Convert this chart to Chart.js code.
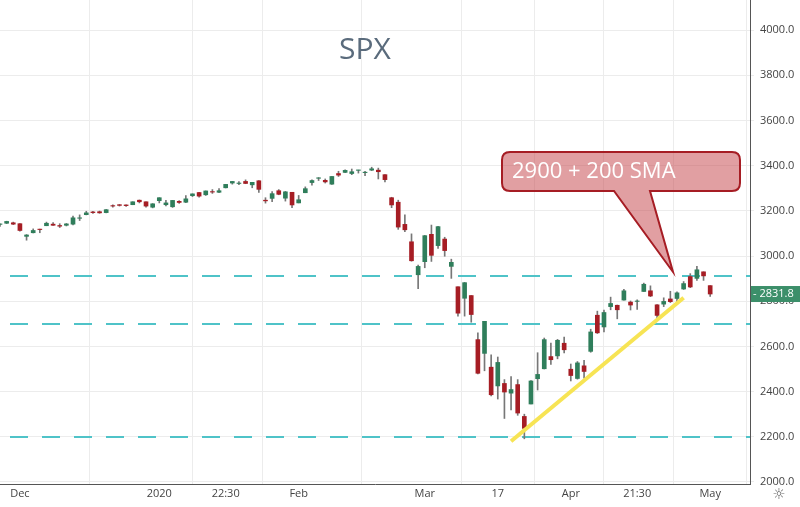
<!DOCTYPE html>
<html><head><meta charset="utf-8">
<script src="https://cdn.jsdelivr.net/npm/chart.js@4"></script>
<style>html,body{margin:0;padding:0;background:#fff}#w{width:800px;height:507px}</style>
</head><body><div id="w"><canvas id="c"></canvas></div>
<script>
const dates = ["Nov26","Nov27","Nov29",
"Dec2","Dec3","Dec4","Dec5","Dec6","Dec9","Dec10","Dec11","Dec12","Dec13","Dec16","Dec17","Dec18","Dec19","Dec20","Dec23","Dec24","Dec26","Dec27","Dec30","Dec31",
"Jan2","Jan3","Jan6","Jan7","Jan8","Jan9","Jan10","Jan13","Jan14","Jan15","Jan16","Jan17","Jan21","Jan22","Jan23","Jan24","Jan27","Jan28","Jan29","Jan30","Jan31",
"Feb3","Feb4","Feb5","Feb6","Feb7","Feb10","Feb11","Feb12","Feb13","Feb14","Feb18","Feb19","Feb20","Feb21","Feb24","Feb25","Feb26","Feb27","Feb28",
"Mar2","Mar3","Mar4","Mar5","Mar6","Mar9","Mar10","Mar11","Mar12","Mar13","Mar16","Mar17","Mar18","Mar19","Mar20","Mar23","Mar24","Mar25","Mar26","Mar27","Mar30","Mar31",
"Apr1","Apr2","Apr3","Apr6","Apr7","Apr8","Apr9","Apr13","Apr14","Apr15","Apr16","Apr17","Apr20","Apr21","Apr22","Apr23","Apr24","Apr27","Apr28","Apr29","Apr30",
"May1","e1","e2","e3","e4","e5","e6"];
const opens = [3140,3145,3147,
3143,3087,3103,3119,3134,3141,3135,3136,3141,3167,3183,3195,3196,3192,3223,3227,3226,3227,3247,3240,3216,
3245,3227,3218,3242,3238,3267,3281,3271,3285,3282,3302,3323,3321,3330,3315,3333,3247,3255,3289,3256,3282,
3235,3280,3325,3344,3335,3318,3365,3370,3365,3379,3369,3380,3380,3360,3258,3238,3140,3063,2917,
2975,3096,3046,3075,2954,2864,2813,2825,2630,2569,2508,2425,2436,2393,2431,2290,2345,2457,2501,2555,2558,2614,
2499,2458,2514,2578,2738,2686,2776,2782,2805,2796,2799,2843,2846,2784,2787,2810,2812,2854,2909,2901,2930,
2869];
const highs = [3142,3154,3150,
3144,3095,3120,3119,3150,3148,3143,3144,3177,3182,3198,3198,3199,3206,3226,3228,3227,3240,3248,3240,3232,
3258,3246,3246,3245,3267,3275,3282,3288,3294,3298,3317,3330,3329,3337,3326,3334,3258,3285,3294,3286,3282,
3268,3306,3337,3347,3341,3352,3375,3381,3385,3380,3375,3393,3389,3360,3260,3247,3182,3098,2960,
3091,3137,3131,3083,2986,2864,2883,2825,2660,2711,2563,2553,2453,2466,2453,2300,2449,2572,2637,2615,2631,2641,
2522,2533,2538,2676,2756,2761,2818,2783,2852,2801,2806,2880,2868,2785,2815,2844,2842,2887,2922,2954,2930,
2869];
const lows = [3131,3143,3139,
3110,3070,3102,3103,3134,3135,3126,3133,3138,3157,3182,3188,3189,3191,3216,3221,3220,3227,3235,3216,3213,
3235,3222,3215,3233,3236,3263,3260,3268,3277,3280,3301,3318,3316,3320,3302,3281,3234,3241,3271,3243,3214,
3235,3280,3313,3334,3323,3317,3352,3369,3360,3367,3355,3378,3341,3328,3214,3118,3108,2977,2855,
2948,2976,3034,2999,2901,2734,2734,2707,2478,2492,2381,2367,2281,2319,2295,2191,2345,2407,2500,2520,2545,2571,
2447,2455,2459,2574,2657,2664,2762,2722,2805,2761,2764,2843,2820,2727,2776,2794,2791,2852,2860,2892,2892,
2821];
const closes = [3140,3153,3141,
3113,3093,3113,3117,3145,3136,3132,3142,3169,3169,3191,3192,3191,3205,3221,3224,3223,3240,3240,3221,3231,
3258,3235,3246,3237,3253,3275,3265,3288,3283,3289,3317,3330,3321,3321,3326,3295,3244,3276,3273,3284,3226,
3249,3298,3334,3345,3328,3352,3358,3379,3373,3380,3370,3386,3373,3338,3226,3128,3116,2979,2954,
3090,3003,3130,3024,2972,2747,2882,2741,2481,2711,2386,2529,2398,2409,2305,2237,2447,2476,2630,2541,2627,2585,
2471,2527,2489,2664,2660,2750,2790,2762,2846,2783,2800,2875,2823,2737,2799,2798,2837,2878,2863,2939,2912,
2831.8];
const levels = [2910, 2700, 2200];
const trendIdx = [77, 103];
const trendVal = [2180, 2815];
const yTicks = [2000,2200,2400,2600,2800,3000,3200,3400,3600,3800,4000];
const xTickIdx = [3,24,34,45,64,75,86,96,107];
const xTickLbl = ["Dec","2020","22:30","Feb","Mar","17","Apr","21:30","May"];
const lastPrice = 2831.8;

const UP='#2f7e5b', DN='#a61d24';
const wick = dates.map((d,i)=> i<lows.length ? [lows[i],highs[i]] : null);
const body = dates.map((d,i)=> i<opens.length ? [opens[i], Math.abs(closes[i]-opens[i])<2 ? opens[i]+2 : closes[i]] : null);
const col = i => closes[i]>=opens[i] ? UP : DN;
const trend = dates.map((d,i)=> { const k=trendIdx.indexOf(i); return k>=0?trendVal[k]:null; });

const deco = {
  id:'deco',
  beforeDatasetsDraw(ch){
    const {ctx, chartArea:a, scales:{y}} = ch;
    ctx.save();
    ctx.strokeStyle='#4fc3c8'; ctx.lineWidth=2; ctx.setLineDash([18,14]);
    levels.forEach(v=>{const py=Math.round(y.getPixelForValue(v));ctx.beginPath();ctx.moveTo(a.left+10,py);ctx.lineTo(a.right,py);ctx.stroke();});
    ctx.restore();
    ctx.save(); ctx.fillStyle='#5a6b7c'; ctx.font='30px "Open Sans", sans-serif'; ctx.textAlign='center'; ctx.textBaseline='middle';
    ctx.fillText('SPX',365,50); ctx.restore();
  },
  afterDatasetsDraw(ch){
    const {ctx, chartArea:a, scales:{y}} = ch;
    ctx.save();
    ctx.fillStyle='rgba(200,80,85,0.55)'; ctx.strokeStyle='#a61d24'; ctx.lineWidth=2;
    ctx.beginPath();
    const x0=502,y0=152,x1=740,y1=191,r=8;
    ctx.moveTo(x0+r,y0); ctx.lineTo(x1-r,y0); ctx.quadraticCurveTo(x1,y0,x1,y0+r);
    ctx.lineTo(x1,y1-r); ctx.quadraticCurveTo(x1,y1,x1-r,y1);
    ctx.lineTo(650,y1); ctx.lineTo(673,272); ctx.lineTo(614,y1);
    ctx.lineTo(x0+r,y1); ctx.quadraticCurveTo(x0,y1,x0,y1-r);
    ctx.lineTo(x0,y0+r); ctx.quadraticCurveTo(x0,y0,x0+r,y0); ctx.closePath();
    ctx.fill(); ctx.stroke();
    ctx.fillStyle='#fff'; ctx.font='22px "Open Sans", sans-serif'; ctx.textBaseline='middle';
    ctx.fillText('2900 + 200 SMA',512,172);
    const py=y.getPixelForValue(lastPrice);
    ctx.fillStyle='#3c8f6a'; ctx.fillRect(a.right+1,py-8,49,16);
    ctx.fillStyle='#fff'; ctx.font='11px "Open Sans", sans-serif'; ctx.textAlign='left';
    ctx.fillText('- '+lastPrice.toFixed(1),a.right+3,py);
    ctx.fillStyle='#666'; ctx.font='15px "DejaVu Sans"'; ctx.textAlign='center';
    ctx.fillText('☼',779,495);
    ctx.restore();
  }
};

new Chart(document.getElementById('c'), {
  data:{labels:dates, datasets:[
    {type:'line', data:trend, borderColor:'#f7e454', borderWidth:4, pointRadius:0, spanGaps:true, order:0},
    {type:'bar', data:wick, backgroundColor:'#777', barThickness:1, grouped:false, order:2},
    {type:'bar', data:body, backgroundColor:c=>col(c.dataIndex), borderWidth:0, barThickness:4, grouped:false, order:1}
  ]},
  options:{
    responsive:true, maintainAspectRatio:false, animation:false,
    layout:{padding:0},
    plugins:{legend:{display:false}, tooltip:{enabled:false}},
    scales:{
      x:{type:'category', offset:false,
        afterBuildTicks(s){ s.ticks = xTickIdx.map(v=>({value:v})); },
        afterFit(s){ s.height=23; s.paddingLeft=0; s.paddingRight=0; },
        ticks:{autoSkip:false, maxRotation:0, color:'#444', font:{size:11,family:'"Open Sans", sans-serif'}, callback:(v)=>xTickLbl[xTickIdx.indexOf(v)]},
        grid:{color:'#ececec', drawTicks:false}, border:{color:'#555'}},
      y:{position:'right', min:1991, max:4133,
        afterBuildTicks(s){ s.ticks = yTicks.map(v=>({value:v})); },
        afterFit(s){ s.width=50; s.paddingTop=0; s.paddingBottom=0; },
        ticks:{color:'#444', padding:6, font:{size:11,family:'"Open Sans", sans-serif'}, callback:v=>v.toFixed(1)},
        grid:{color:'#ececec', drawTicks:true, tickLength:4}, border:{color:'#555'}}
    }
  },
  plugins:[deco]
});
</script></body></html>
